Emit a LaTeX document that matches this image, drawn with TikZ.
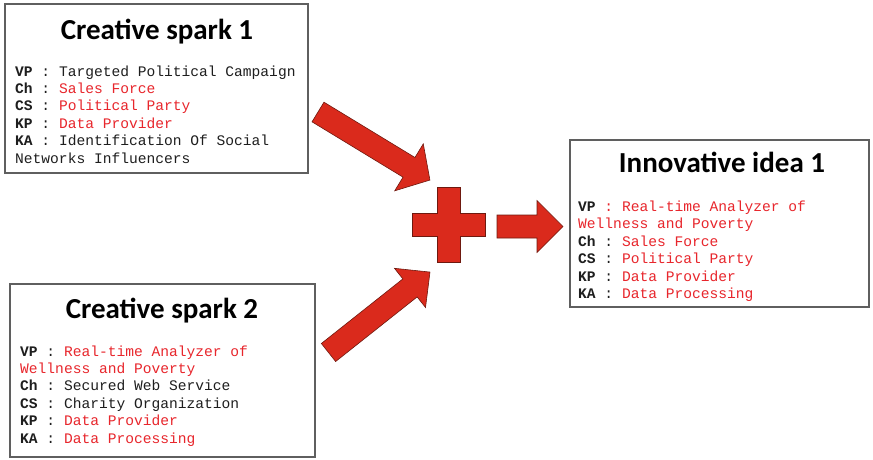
\documentclass[tikz,border=0pt]{standalone}
\usepackage{fontspec}
\setmainfont{Carlito}
\newfontfamily\titlefont{Carlito}
\newfontfamily\codefont{Liberation Mono}

\definecolor{txtred}{RGB}{232,38,44}
\definecolor{txtdark}{RGB}{30,30,30}
\definecolor{arrowred}{RGB}{218,42,28}
\definecolor{arrowedge}{RGB}{110,25,15}
\definecolor{boxedge}{RGB}{95,95,95}

\tikzset{
  card/.style={draw=boxedge, line width=1.2pt, fill=white, inner sep=0pt},
  cardtitle/.style={font=\titlefont\bfseries\fontsize{29}{29}\selectfont,
    anchor=base, inner sep=0pt, text=black},
  codeline/.style={font=\codefont\fontsize{14.6}{17.4}\selectfont\frenchspacing,
    anchor=base west, inner sep=0pt, text=txtdark},
  blockshape/.style={fill=arrowred, draw=arrowedge, line width=0.6pt, line join=miter},
}
\newcommand{\lbl}[1]{\textbf{#1}}
\newcommand{\hot}[1]{{\color{txtred}\relax#1}}

\begin{document}
\begin{tikzpicture}[x=1pt,y=-1pt]
\useasboundingbox (0,0) rectangle (873,459);

% --- cards ---
\node[card, minimum width=303pt, minimum height=169pt] (spark1) at (156.5,88.5) {};
\node[card, minimum width=305pt, minimum height=173pt] (spark2) at (162.5,370.5) {};
\node[card, minimum width=299pt, minimum height=167pt] (idea) at (719.5,223.5) {};

% --- titles ---
\node[cardtitle] (spark1title) at (157,39.5) {Creative spark 1};
\node[cardtitle] (spark2title) at (162,318.5) {Creative spark 2};
\node[cardtitle] (ideatitle) at (722,172.5) {Innovative idea 1};

% --- spark 1 fields ---
\node[codeline] (s1vp) at (15,76) {\lbl{VP} : Targeted Political Campaign};
\node[codeline] (s1ch) at (15,93.4) {\lbl{Ch} : \hot{Sales Force}};
\node[codeline] (s1cs) at (15,110.8) {\lbl{CS} : \hot{Political Party}};
\node[codeline] (s1kp) at (15,128.2) {\lbl{KP} : \hot{Data Provider}};
\node[codeline] (s1ka) at (15,145.6) {\lbl{KA} : Identification Of Social};
\node[codeline] (s1kb) at (15,163) {Networks Influencers};

% --- spark 2 fields ---
\node[codeline] (s2vp) at (20,356) {\lbl{VP} : \hot{Real-time Analyzer of}};
\node[codeline] (s2vq) at (20,373.4) {\hot{Wellness and Poverty}};
\node[codeline] (s2ch) at (20,390.8) {\lbl{Ch} : Secured Web Service};
\node[codeline] (s2cs) at (20,408.2) {\lbl{CS} : Charity Organization};
\node[codeline] (s2kp) at (20,425.6) {\lbl{KP} : \hot{Data Provider}};
\node[codeline] (s2ka) at (20,443) {\lbl{KA} : \hot{Data Processing}};

% --- idea fields ---
\node[codeline] (ivp) at (578,211.5) {\lbl{VP}\hot{ : Real-time Analyzer of}};
\node[codeline] (ivq) at (578,228.9) {\hot{Wellness and Poverty}};
\node[codeline] (ich) at (578,246.3) {\lbl{Ch} : \hot{Sales Force}};
\node[codeline] (ics) at (578,263.7) {\lbl{CS} : \hot{Political Party}};
\node[codeline] (ikp) at (578,281.1) {\lbl{KP} : \hot{Data Provider}};
\node[codeline] (ika) at (578,298.5) {\lbl{KA} : \hot{Data Processing}};

% --- block arrows and plus sign ---
\draw[blockshape, shift={(318,112)}, rotate=-31.3]
  (0,-11.5) -- (106.5,-11.5) -- (106.5,-27.5) -- (131,0)
  -- (106.5,27.5) -- (106.5,11.5) -- (0,11.5) -- cycle;
\draw[blockshape, shift={(328.5,352.5)}, rotate=38.4]
  (0,-11.5) -- (104,-11.5) -- (104,-25) -- (129.5,0)
  -- (104,25) -- (104,11.5) -- (0,11.5) -- cycle;
\draw[blockshape, shift={(497,226.5)}]
  (0,-11.5) -- (40,-11.5) -- (40,-26) -- (66,0)
  -- (40,26) -- (40,11.5) -- (0,11.5) -- cycle;
\draw[blockshape, shift={(448.5,224.5)}]
  (-11.5,-37.5) -- (11.5,-37.5) -- (11.5,-11.5) -- (36.5,-11.5)
  -- (36.5,11.5) -- (11.5,11.5) -- (11.5,37.5) -- (-11.5,37.5)
  -- (-11.5,11.5) -- (-36.5,11.5) -- (-36.5,-11.5) -- (-11.5,-11.5) -- cycle;
\end{tikzpicture}
\end{document}
